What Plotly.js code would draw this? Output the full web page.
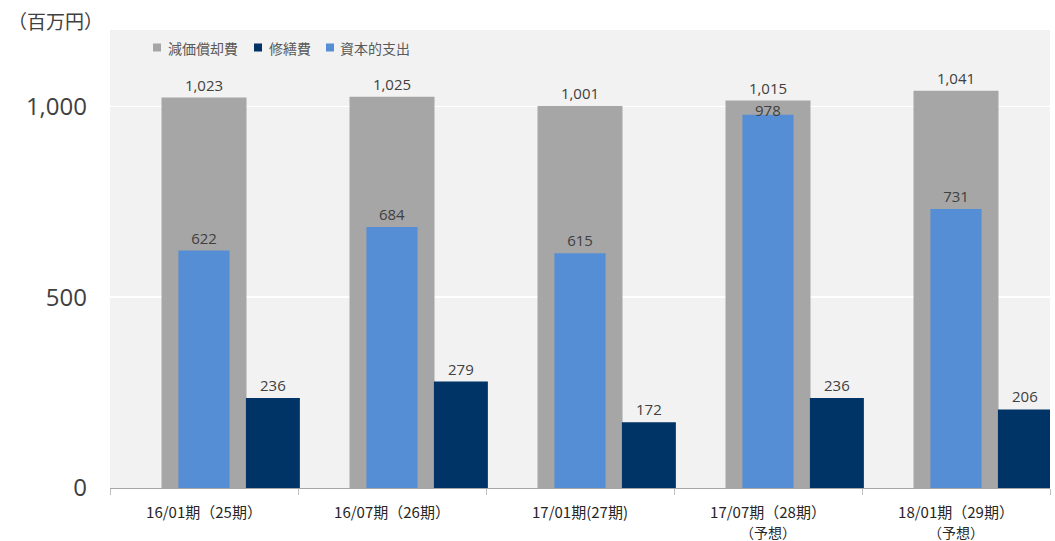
<!DOCTYPE html>
<html><head><meta charset="utf-8">
<script src="https://cdn.plot.ly/plotly-3.0.1.min.js"></script>
<style>html,body{margin:0;padding:0;background:#fff}</style>
</head><body><div id="chart" style="width:1055px;height:541px"></div>
<script>
const categories = ["16/01期（25期）","16/07期（26期）","17/01期(27期)","17/07期（28期）","18/01期（29期）"];
const forecastNotes = ["","","","（予想）","（予想）"];
const seriesNames = ["減価償却費","修繕費","資本的支出"];
const depreciation = [1023,1025,1001,1015,1041];
const repair = [236,279,172,236,206];
const capex = [622,684,615,978,731];
const yTicks = [0,500,1000];
const yTickLabels = ["0","500","1,000"];

const colors = ["#a6a6a6","#003366","#558ed5"];
const fmt = v => v.toLocaleString("en-US");
const txtFont = {family:"Open Sans, DejaVu Sans", size:15, color:"#404040"};

// capex labels that would collide with the depreciation label are placed tight to the bar
const tightIdx = capex.map((v, i) => depreciation[i] - v < 60);

const traces = [
  {type:"bar", name:seriesNames[0], x:categories, y:depreciation, marker:{color:colors[0]},
   width:0.452, offset:-0.226, text:depreciation.map(fmt), textposition:"outside", textfont:txtFont, cliponaxis:false, hoverinfo:"skip"},
  {type:"bar", name:seriesNames[1], x:categories, y:repair, marker:{color:colors[1]},
   width:0.287, offset:0.223, text:repair.map(fmt), textposition:"outside", textfont:txtFont, cliponaxis:false, hoverinfo:"skip"},
  {type:"bar", name:seriesNames[2], x:categories, y:capex, marker:{color:colors[2]},
   width:0.272, offset:-0.136, text:capex.map((v, i) => tightIdx[i] ? "" : fmt(v)), textposition:"outside", textfont:txtFont, cliponaxis:false, hoverinfo:"skip"}
];

const L = 110, T = 30, W = 940, H = 458;
const px = p => (p - L) / W;
const py = p => (T + H - p) / H;
const legendPos = [{m:153, t:166}, {m:254, t:267}, {m:326, t:338}];
const shapes = legendPos.map((p, i) => ({type:"rect", xref:"paper", yref:"paper",
  x0:px(p.m), x1:px(p.m + 8), y0:py(51.5), y1:py(43.5), line:{width:0}, fillcolor:colors[i]}));
const annotations = legendPos.map((p, i) => ({text:seriesNames[i], xref:"paper", yref:"paper",
  x:px(p.t), y:py(47.5), xanchor:"left", yanchor:"middle", showarrow:false,
  font:{size:14, color:"#595959", family:"Noto Sans CJK JP"}}));
annotations.push({text:"（百万円）", xref:"paper", yref:"paper", x:px(6), y:py(20), xanchor:"left", yanchor:"middle",
  showarrow:false, font:{size:19, color:"#404040", family:"Noto Sans CJK JP"}});
categories.forEach((c, i) => {
  if (forecastNotes[i]) annotations.push({text:forecastNotes[i], xref:"x", yref:"paper", x:c, y:py(532),
    xanchor:"center", yanchor:"middle", showarrow:false, font:{size:14, color:"#262626", family:"Noto Sans CJK JP"}});
  if (tightIdx[i]) annotations.push({text:fmt(capex[i]), xref:"x", yref:"y", x:c, y:capex[i],
    xanchor:"center", yanchor:"bottom", yshift:-6, borderpad:0, showarrow:false, font:txtFont});
});

const layout = {
  width:1055, height:541,
  margin:{l:L, r:1055 - L - W, t:T, b:541 - T - H},
  barmode:"overlay",
  paper_bgcolor:"#ffffff", plot_bgcolor:"#f2f2f2",
  font:{family:"Noto Sans CJK JP, sans-serif", color:"#404040"},
  showlegend:false,
  xaxis:{type:"category", range:[-0.5,4.5], showgrid:false, showline:true, linecolor:"#a6a6a6", linewidth:1,
    ticks:"outside", tickson:"boundaries", ticklen:6, tickcolor:"#bfbfbf", ticklabelstandoff:11,
    tickfont:{size:15, color:"#262626", family:"Noto Sans CJK JP"}},
  yaxis:{range:[0,1200], tickvals:yTicks, ticktext:yTickLabels, showgrid:true, gridcolor:"#ffffff", gridwidth:1.5,
    zeroline:false, showline:false, ticks:"", tickfont:{size:24, color:"#404040", family:"Open Sans, DejaVu Sans"}, ticklabelstandoff:22},
  shapes:shapes,
  annotations:annotations
};
Plotly.newPlot("chart", traces, layout, {displayModeBar:false, staticPlot:true});
</script></body></html>
